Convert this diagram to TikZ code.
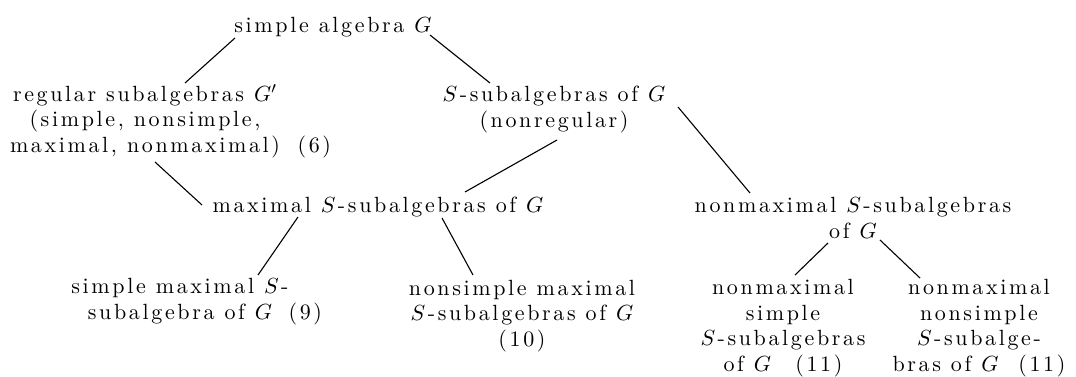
\documentclass[tikz,border=0pt]{standalone}
\usepackage{fontspec}
\setmainfont{lmroman10-regular.otf}[LetterSpace=12]
\usetikzlibrary{calc}
\newcommand{\Sh}{$S$\kern1.2pt-}
\begin{document}
\begin{tikzpicture}[x=0.5pt,y=-0.5pt,
  lbl/.style={inner sep=0pt, align=center, anchor=base,
    font=\fontsize{11}{12.7}\selectfont},
  conn/.style={line width=0.55pt, black}]
\useasboundingbox (0,0) rectangle (1076,376);
\node[lbl] (root) at (333,32) {simple algebra $G$};
\node[lbl] (reg) at (145,152) {regular subalgebras $G'$\\(simple, nonsimple,\\maximal, nonmaximal)\rlap{\hspace{0.8em}(6)}};
\node[lbl] (ssub) at (554,127) {\Sh subalgebras of $G$\\(nonregular)};
\node[lbl] (max) at (378,212) {maximal \Sh subalgebras of $G$};
\node[lbl] (nonmax) at (853,238) {nonmaximal \Sh subalgebras\\of $G$};
\node[lbl] (smax) at (180,319) {simple maximal \Sh\\subalgebra of $G$\rlap{\hspace{0.75em}(9)}};
\node[lbl] (nsmax) at (522,346) {nonsimple maximal\\\Sh subalgebras of $G$\\(10)};
\node[lbl] (nms) at (783,371) {nonmaximal\\simple\\\Sh subalgebras\\of $G$\hspace{1.1em}(11)};
\node[lbl] (nmns) at (979,371) {nonmaximal\\nonsimple\\\Sh subalge-\\bras of $G$\hspace{0.9em}(11)};
\draw[conn] ($(root.base)+(-98,6)$) -- ($(reg.base)+(40,-69)$);
\draw[conn] ($(root.base)+(97,3)$) -- ($(ssub.base)+(-64,-44)$);
\draw[conn] ($(reg.base)+(10,10)$) -- ($(max.base)+(-176,-7)$);
\draw[conn] ($(ssub.base)+(3,13)$) -- ($(max.base)+(87,-20)$);
\draw[conn] ($(ssub.base)+(124,-20)$) -- ($(nonmax.base)+(-103,-45)$);
\draw[conn] ($(max.base)+(-80,5)$) -- ($(smax.base)+(78,-44)$);
\draw[conn] ($(max.base)+(64,6)$) -- ($(nsmax.base)+(-49,-71)$);
\draw[conn] ($(nonmax.base)+(-25,5)$) -- ($(nms.base)+(12,-96)$);
\draw[conn] ($(nonmax.base)+(27,2)$) -- ($(nmns.base)+(-59,-93)$);
\end{tikzpicture}
\end{document}
